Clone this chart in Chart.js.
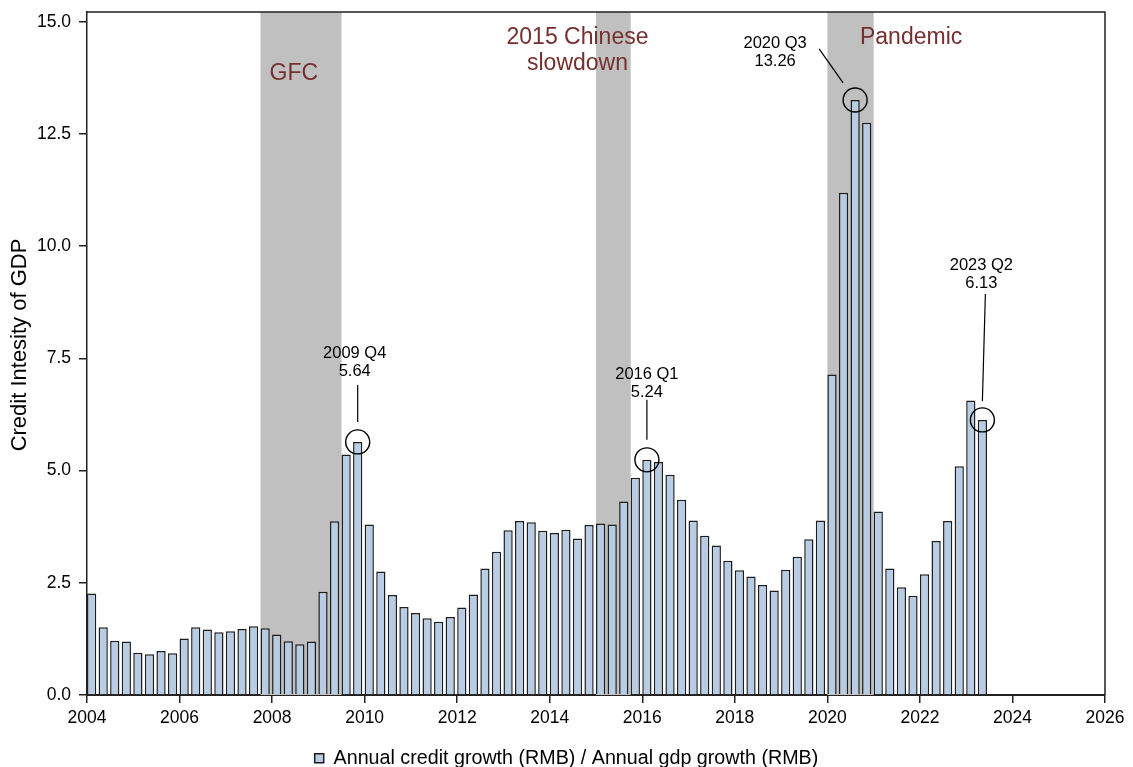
<!DOCTYPE html>
<html>
<head>
<meta charset="utf-8">
<title>Credit Intensity of GDP</title>
<script src="https://cdn.jsdelivr.net/npm/chart.js@4.4.0/dist/chart.umd.min.js"></script>
<style>
  html, body { margin: 0; padding: 0; background: #ffffff; }
  #wrap { width: 1133px; height: 767px; }
</style>
</head>
<body>
<div id="wrap"><canvas id="chart" width="1133" height="767"></canvas></div>
<script>
// Quarterly observations
const quarters = [
  '2004 Q1','2004 Q2','2004 Q3','2004 Q4',
  '2005 Q1','2005 Q2','2005 Q3','2005 Q4',
  '2006 Q1','2006 Q2','2006 Q3','2006 Q4',
  '2007 Q1','2007 Q2','2007 Q3','2007 Q4',
  '2008 Q1','2008 Q2','2008 Q3','2008 Q4',
  '2009 Q1','2009 Q2','2009 Q3','2009 Q4',
  '2010 Q1','2010 Q2','2010 Q3','2010 Q4',
  '2011 Q1','2011 Q2','2011 Q3','2011 Q4',
  '2012 Q1','2012 Q2','2012 Q3','2012 Q4',
  '2013 Q1','2013 Q2','2013 Q3','2013 Q4',
  '2014 Q1','2014 Q2','2014 Q3','2014 Q4',
  '2015 Q1','2015 Q2','2015 Q3','2015 Q4',
  '2016 Q1','2016 Q2','2016 Q3','2016 Q4',
  '2017 Q1','2017 Q2','2017 Q3','2017 Q4',
  '2018 Q1','2018 Q2','2018 Q3','2018 Q4',
  '2019 Q1','2019 Q2','2019 Q3','2019 Q4',
  '2020 Q1','2020 Q2','2020 Q3','2020 Q4',
  '2021 Q1','2021 Q2','2021 Q3','2021 Q4',
  '2022 Q1','2022 Q2','2022 Q3','2022 Q4',
  '2023 Q1','2023 Q2'
];

// Annual credit growth (RMB) / Annual gdp growth (RMB)
const creditIntensity = [
  2.26, 1.51, 1.21, 1.19,
  0.94, 0.91, 0.98, 0.93,
  1.26, 1.51, 1.46, 1.40,
  1.42, 1.47, 1.53, 1.49,
  1.35, 1.20, 1.13, 1.19,
  2.30, 3.87, 5.36, 5.64,
  3.80, 2.75, 2.23, 1.96,
  1.83, 1.71, 1.63, 1.74,
  1.95, 2.24, 2.82, 3.19,
  3.67, 3.88, 3.85, 3.66,
  3.61, 3.68, 3.49, 3.79,
  3.82, 3.80, 4.31, 4.84,
  5.24, 5.19, 4.91, 4.35,
  3.89, 3.55, 3.33, 2.99,
  2.78, 2.64, 2.45, 2.33,
  2.79, 3.08, 3.47, 3.89,
  7.14, 11.19, 13.26, 12.75,
  4.09, 2.82, 2.40, 2.21,
  2.69, 3.43, 3.88, 5.10,
  6.56, 6.13
];

const yTickValues = [0, 2.5, 5, 7.5, 10, 12.5, 15];
const xTickValues = [2004, 2006, 2008, 2010, 2012, 2014, 2016, 2018, 2020, 2022, 2024, 2026];
const yAxisTitle = 'Credit Intesity of GDP';

// Shaded episodes (in years)
const episodeNames = [['GFC'], ['2015 Chinese', 'slowdown'], ['Pandemic']];
const episodeStart = [2007.75, 2015.0, 2020.0];
const episodeEnd   = [2009.5, 2015.75, 2021.0];

// Highlighted quarters
const calloutQuarters = ['2009 Q4', '2016 Q1', '2020 Q3', '2023 Q2'];

const FONT = "'Liberation Sans', Arial, Helvetica, sans-serif";
const INK = '#000000';
const EPISODE_INK = '#742f2e';

// Where each episode title sits (x in years, y in axis units)
const episodeLabelAt = [[2008.47, 13.84], [2014.6, 14.65], [2021.81, 14.65]];

// Callout geometry, pixel offsets from the circled bar top
const calloutStyle = [
  { text: [-3, -88.5], line: [[0, -57], [0, -20]] },
  { text: [0, -85.5], line: [[0, -60], [0, -20]] },
  { text: [-80, -56.5], line: [[-36, -51], [-12, -17]] },
  { text: [-1, -154.5], line: [[3, -126], [0, -19]] }
];

// Bars occupy the first 80% of each quarter
function quarterCentre(label) {
  const parts = label.split(' Q');
  return Number(parts[0]) + (Number(parts[1]) - 1) * 0.25 + 0.1;
}

const points = quarters.map((q, i) => ({ x: quarterCentre(q), y: creditIntensity[i] }));

const episodesPlugin = {
  id: 'episodes',
  beforeDatasetsDraw(chart) {
    const { ctx, chartArea, scales: { x, y } } = chart;
    ctx.save();
    ctx.fillStyle = '#c0c0c0';
    episodeStart.forEach((s, i) => {
      const x0 = x.getPixelForValue(s);
      const x1 = x.getPixelForValue(episodeEnd[i]);
      ctx.fillRect(x0, chartArea.top, x1 - x0, chartArea.bottom - chartArea.top);
    });
    ctx.fillStyle = EPISODE_INK;
    ctx.font = '23px ' + FONT;
    ctx.textAlign = 'center';
    ctx.textBaseline = 'middle';
    episodeNames.forEach((lines, i) => {
      const px = x.getPixelForValue(episodeLabelAt[i][0]);
      const py = y.getPixelForValue(episodeLabelAt[i][1]);
      lines.forEach((t, k) => ctx.fillText(t, px, py + k * 26));
    });
    ctx.restore();
  },
  afterDatasetsDraw(chart) {
    const { ctx, chartArea, scales: { x, y } } = chart;
    ctx.save();
    // top and right frame
    ctx.strokeStyle = '#222222';
    ctx.lineWidth = 1.5;
    ctx.beginPath();
    ctx.moveTo(chartArea.left, chartArea.top);
    ctx.lineTo(chartArea.right, chartArea.top);
    ctx.lineTo(chartArea.right, chartArea.bottom);
    ctx.stroke();

    // callouts
    ctx.font = '16.5px ' + FONT;
    ctx.fillStyle = INK;
    ctx.textAlign = 'center';
    ctx.textBaseline = 'middle';
    calloutQuarters.forEach((q, i) => {
      const idx = quarters.indexOf(q);
      const v = creditIntensity[idx];
      const cx = x.getPixelForValue(quarterCentre(q));
      const cy = y.getPixelForValue(v);
      const st = calloutStyle[i];
      ctx.strokeStyle = INK;
      ctx.lineWidth = 1.4;
      ctx.beginPath();
      ctx.arc(cx, cy, 12, 0, Math.PI * 2);
      ctx.stroke();
      ctx.lineWidth = 1.2;
      ctx.beginPath();
      ctx.moveTo(cx + st.line[0][0], cy + st.line[0][1]);
      ctx.lineTo(cx + st.line[1][0], cy + st.line[1][1]);
      ctx.stroke();
      ctx.fillText(q, cx + st.text[0], cy + st.text[1]);
      ctx.fillText(v.toFixed(2), cx + st.text[0], cy + st.text[1] + 18);
    });

    // vertical axis title
    ctx.translate(20, 345);
    ctx.rotate(-Math.PI / 2);
    ctx.font = '22px ' + FONT;
    ctx.fillText(yAxisTitle, 0, 0);
    ctx.restore();
  }
};

const LEGEND_PAD_BOTTOM = -11;

new Chart(document.getElementById('chart'), {
  type: 'bar',
  data: {
    datasets: [{
      label: 'Annual credit growth (RMB) / Annual gdp growth (RMB)',
      data: points,
      backgroundColor: '#b8cce4',
      borderColor: '#1e1e1e',
      borderWidth: 1.5,
      categoryPercentage: 1.0,
      barPercentage: 0.8
    }]
  },
  options: {
    responsive: false,
    animation: false,
    devicePixelRatio: 1,
    layout: { padding: { left: 28, right: 28, top: 12, bottom: LEGEND_PAD_BOTTOM } },
    plugins: {
      legend: {
        display: true,
        position: 'bottom',
        labels: {
          color: INK,
          font: { family: FONT, size: 19.7 },
          boxWidth: 9,
          boxHeight: 9,
          padding: 0
        }
      },
      tooltip: { enabled: false }
    },
    scales: {
      x: {
        type: 'linear',
        offset: false,
        min: 2004,
        max: 2026,
        grid: { offset: false, drawOnChartArea: false, drawTicks: true, tickLength: 8, color: '#222222', lineWidth: 1.5 },
        border: { display: true, color: '#222222', width: 2 },
        afterBuildTicks(s) { s.ticks = xTickValues.map(v => ({ value: v })); },
        ticks: {
          color: INK,
          font: { family: FONT, size: 17.5 },
          padding: 5,
          maxRotation: 0,
          autoSkip: false,
          callback: v => String(v)
        },
        afterFit(s) {
          const lg = s.chart.legend;
          s.height = 72 - LEGEND_PAD_BOTTOM - (lg ? lg.height : 0);
        }
      },
      y: {
        type: 'linear',
        min: 0,
        max: 15.22,
        grid: { drawOnChartArea: false, drawTicks: true, tickLength: 8, color: '#222222', lineWidth: 1.5 },
        border: { display: true, color: '#222222', width: 1.5 },
        afterBuildTicks(s) { s.ticks = yTickValues.map(v => ({ value: v })); },
        ticks: {
          color: INK,
          font: { family: FONT, size: 17.5 },
          padding: 8,
          callback: v => Number(v).toFixed(1)
        },
        title: { display: false },
        afterFit(s) {
          s.width = 59;
          s.paddingTop = 0;
          s.paddingBottom = 0;
        }
      }
    }
  },
  plugins: [episodesPlugin]
});
</script>
</body>
</html>
